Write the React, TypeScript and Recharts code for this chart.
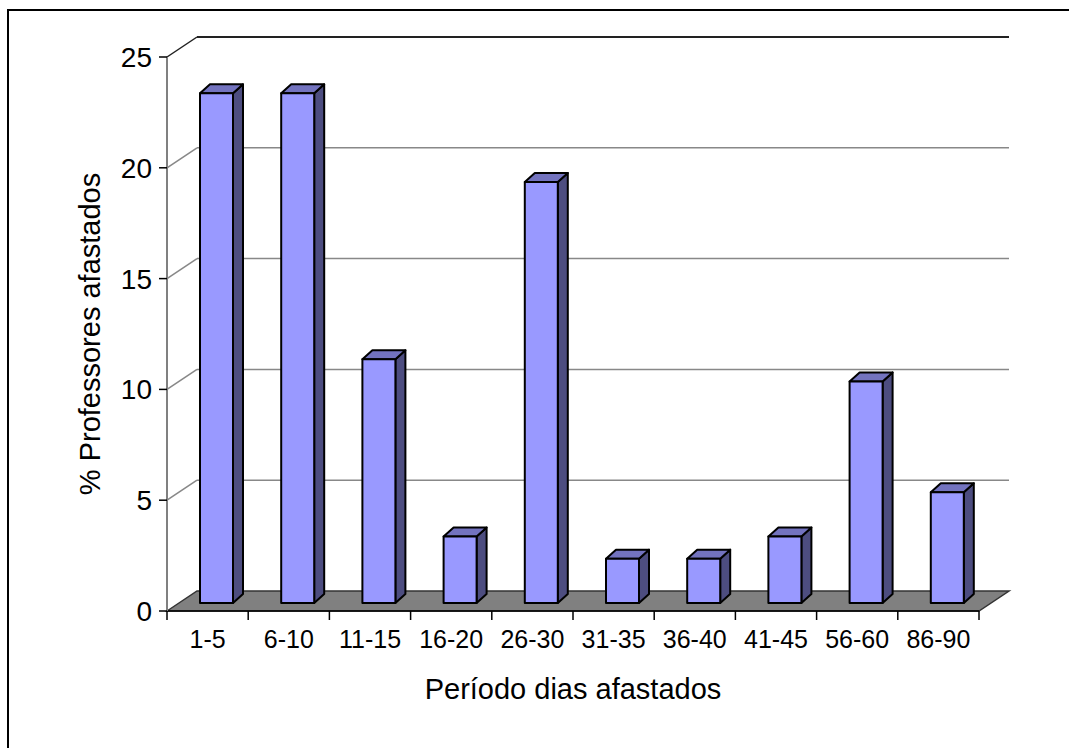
import React from "react";
import { BarChart, Bar, XAxis, YAxis, CartesianGrid } from "recharts";

// Days away from work, grouped in periods, and the share of teachers in each
const PERIODS = ["1-5", "6-10", "11-15", "16-20", "26-30", "31-35", "36-40", "41-45", "56-60", "86-90"];
const SHARES = [23, 23, 11, 3, 19, 2, 2, 3, 10, 5];
const Y_TICKS = [0, 5, 10, 15, 20, 25];

const data = PERIODS.map((period, i) => ({ period, share: SHARES[i] }));

const FONT = "'Liberation Sans', Arial, sans-serif";

// oblique projection of the walls and the columns
const WALL_DX = 30;
const WALL_DY = -20;
const BAR_SHIFT_X = 9;
const BAR_SHIFT_Y = -8;
const BAR_DX = 10;
const BAR_DY = -9;
const EDGE_TICK = 9;

const W = 1060;
const H = 737;

// back wall gridline + its diagonal on the side wall; the zero line becomes the floor
const renderGridLine = (props: any) => {
  const { x1, x2, y1, index } = props;
  const bx1 = x1 + WALL_DX;
  const bx2 = x2 + WALL_DX;
  const by = y1 + WALL_DY;
  const isFloor = index === 0;
  const isTop = index === Y_TICKS.length - 1;
  if (isFloor) {
    // tick marks between categories, hanging under the front edge of the floor
    const step = (x2 - x1) / PERIODS.length;
    const edges = Array.from({ length: PERIODS.length + 1 }, (_, i) => x1 + i * step);
    return (
      <g key={`grid-${index}`}>
        <polygon
          points={`${x1},${y1} ${bx1},${by} ${bx2},${by} ${x2},${y1}`}
          fill="#808080"
          stroke="#333333"
          strokeWidth={1.5}
        />
        <line x1={x1} y1={y1} x2={x2} y2={y1} stroke="#000" strokeWidth={1.5} />
        {edges.map((ex, i) => (
          <line key={i} x1={ex} y1={y1} x2={ex} y2={y1 + EDGE_TICK} stroke="#000" strokeWidth={1.5} />
        ))}
      </g>
    );
  }
  const color = isTop ? "#222222" : "#888888";
  return (
    <g key={`grid-${index}`}>
      <line x1={x1} y1={y1} x2={bx1} y2={by} stroke={color} strokeWidth={1.5} />
      <line x1={bx1} y1={by} x2={bx2} y2={by} stroke={color} strokeWidth={isTop ? 2 : 1.5} />
    </g>
  );
};

// column drawn as a small prism: front face, top and right side
const Column = (props: any) => {
  const { x, y, width, height } = props;
  if (width == null || height == null) return null;
  const fx = x + BAR_SHIFT_X;
  const fy = y + BAR_SHIFT_Y;
  const r = fx + width;
  const b = fy + height;
  return (
    <g stroke="#000" strokeWidth={2} strokeLinejoin="round">
      <polygon
        points={`${r},${fy} ${r + BAR_DX},${fy + BAR_DY} ${r + BAR_DX},${b + BAR_DY} ${r},${b}`}
        fill="#4D4D80"
      />
      <polygon
        points={`${fx},${fy} ${fx + BAR_DX},${fy + BAR_DY} ${r + BAR_DX},${fy + BAR_DY} ${r},${fy}`}
        fill="#7373BF"
      />
      <rect x={fx} y={fy} width={width} height={height} fill="#9999FF" />
    </g>
  );
};

const YTitle = (props: any) => {
  const vb = props.viewBox || {};
  const cx = vb.x + 81;
  const cy = vb.y + vb.height / 2;
  return (
    <text
      x={cx}
      y={cy}
      transform={`rotate(-90, ${cx}, ${cy})`}
      textAnchor="middle"
      dominantBaseline="central"
      fontFamily={FONT}
      fontSize={29}
      fill="#000"
    >
      % Professores afastados
    </text>
  );
};

const XTitle = (props: any) => {
  const vb = props.viewBox || {};
  return (
    <text
      x={vb.x + vb.width / 2}
      y={vb.y + 88}
      textAnchor="middle"
      fontFamily={FONT}
      fontSize={29}
      fill="#000"
    >
      Período dias afastados
    </text>
  );
};

export default function App() {
  return (
    <div
      style={{
        position: "absolute",
        left: 7,
        top: 9,
        width: W,
        height: H,
        borderTop: "2px solid #000",
        borderLeft: "2px solid #000",
        background: "#fff",
      }}
    >
      <BarChart
        width={W}
        height={H}
        data={data}
        margin={{ top: 46, right: 90, left: 0, bottom: 97 }}
        barSize={33}
      >
        <CartesianGrid vertical={false} horizontal={renderGridLine} />
        <XAxis
          dataKey="period"
          interval={0}
          height={40}
          tickLine={false}
          axisLine={false}
          tickSize={0}
          tickMargin={19}
          tick={{ fontFamily: FONT, fontSize: 25, fill: "#000" }}
          label={<XTitle />}
        />
        <YAxis
          width={158}
          domain={[0, 25]}
          ticks={Y_TICKS}
          interval={0}
          tickSize={8}
          tickMargin={7}
          tickLine={{ stroke: "#000", strokeWidth: 1.5 }}
          axisLine={{ stroke: "#808080", strokeWidth: 2 }}
          tick={{ fontFamily: FONT, fontSize: 28, fill: "#000" }}
          label={<YTitle />}
        />
        <Bar dataKey="share" shape={<Column />} isAnimationActive={false} />
      </BarChart>
    </div>
  );
}
